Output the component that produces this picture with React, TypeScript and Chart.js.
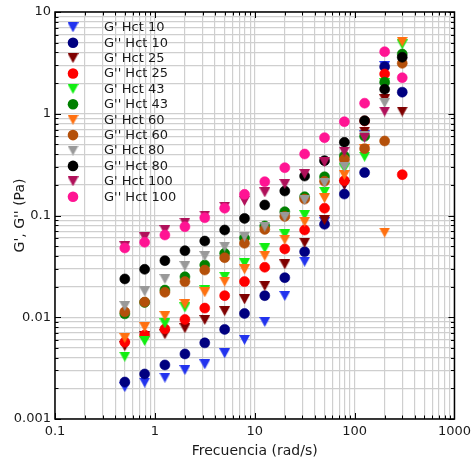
import React, { useEffect, useRef } from 'react';
import { Chart, registerables } from 'chart.js';
Chart.register(...registerables);

// ---------- data ----------
const frequency = [0.5, 0.79, 1.26, 2, 3.16, 5, 7.9, 12.6, 20, 31.6, 50, 79, 126, 200, 300];

const gp10 = [0.00206, 0.00228, 0.00255, 0.00303, 0.00345, 0.00443, 0.006, 0.009, 0.0162, 0.0352, 0.086, 0.2, 0.62, 2.95, null];
const gpp10 = [0.00231, 0.00277, 0.0034, 0.00436, 0.0056, 0.0076, 0.0109, 0.0163, 0.0245, 0.044, 0.082, 0.1625, 0.264, 2.9, 1.63];
const gp25 = [0.0052, 0.0065, 0.0068, 0.0078, 0.0094, 0.0115, 0.015, 0.0203, 0.0331, 0.054, 0.09, 0.2, 0.667, 1.39, 1.05];
const gpp25 = [0.0057, 0.00668, 0.00767, 0.0095, 0.0123, 0.0163, 0.0224, 0.031, 0.0469, 0.072, 0.118, 0.22, 0.85, 2.46, 0.252];
const gp43 = [0.0041, 0.00585, 0.0087, 0.0125, 0.0185, 0.025, 0.0339, 0.0477, 0.0653, 0.101, 0.171, 0.291, 0.378, 2.0, 4.8];
const gpp43 = [0.0108, 0.014, 0.0185, 0.025, 0.0326, 0.0425, 0.06, 0.079, 0.109, 0.153, 0.24, 0.385, 0.6, 2.04, 3.86];
const gp60 = [0.00625, 0.008, 0.0103, 0.0135, 0.0176, 0.0224, 0.0296, 0.0402, 0.058, 0.0869, 0.148, 0.25, 0.45, 0.068, 5.1];
const gpp60 = [0.0113, 0.0141, 0.0176, 0.0224, 0.0291, 0.0385, 0.0533, 0.073, 0.098, 0.145, 0.217, 0.357, 0.454, 0.54, 3.13];
const gp80 = [0.0129, 0.018, 0.0238, 0.0319, 0.04, 0.0494, 0.062, 0.0776, 0.097, 0.142, 0.21, 0.302, 0.6, 1.28, null];
const gpp80 = [0.0238, 0.0296, 0.036, 0.0451, 0.0561, 0.072, 0.0937, 0.127, 0.174, 0.244, 0.346, 0.524, 0.855, 1.74, 3.59];
const gp100 = [0.05, 0.061, 0.072, 0.085, 0.1, 0.122, 0.139, 0.169, 0.204, 0.256, 0.334, 0.424, 0.582, 1.05, null];
const gpp100 = [0.048, 0.0546, 0.0643, 0.0776, 0.095, 0.118, 0.1614, 0.215, 0.295, 0.402, 0.582, 0.835, 1.27, 4.07, 2.26];

const seriesValues = [gp10, gpp10, gp25, gpp25, gp43, gpp43, gp60, gpp60, gp80, gpp80, gp100, gpp100];
const seriesLabels = [
  "G' Hct 10", "G'' Hct 10", "G' Hct 25", "G'' Hct 25", "G' Hct 43", "G'' Hct 43",
  "G' Hct 60", "G'' Hct 60", "G' Hct 80", "G'' Hct 80", "G' Hct 100", "G'' Hct 100",
];
const seriesColors = [
  '#2233ee', '#000080', '#7f0000', '#ff0000', '#11ee11', '#008000',
  '#ff7010', '#b4500a', '#999999', '#000000', '#b0105a', '#ff1493',
];
const seriesIsTriangle = [true, false, true, false, true, false, true, false, true, false, true, false];

const xTickValues = [0.1, 1, 10, 100, 1000];
const xTickLabels = ['0.1', '1', '10', '100', '1000'];
const yTickValues = [0.001, 0.01, 0.1, 1, 10];
const yTickLabels = ['0.001', '0.01', '0.1', '1', '10'];

const xTitle = 'Frecuencia (rad/s)';
const yTitle = "G', G'' (Pa)";

// ---------- helpers ----------
const FONT = 'DejaVu Sans';
const TEXT = '#1a1a1a';

function logValues(minExp: number, maxExp: number) {
  const out: number[] = [];
  for (let e = minExp; e < maxExp; e++) {
    for (let k = 1; k <= 9; k++) out.push(parseFloat((k * Math.pow(10, e)).toPrecision(6)));
  }
  out.push(Math.pow(10, maxExp));
  return out;
}
const xGrid = logValues(-1, 3);
const yGrid = logValues(-3, 1);

function labelFor(v: number, values: number[], labels: string[]) {
  for (let i = 0; i < values.length; i++) {
    if (Math.abs(v - values[i]) / values[i] < 1e-6) return labels[i];
  }
  return '';
}
function isMajor(v: number) {
  const l = Math.log10(v);
  return Math.abs(l - Math.round(l)) < 1e-6;
}

function makeTriangle(color: string) {
  const w = 11, h = 10;
  const c = document.createElement('canvas');
  c.width = w; c.height = h;
  const ctx = c.getContext('2d')!;
  ctx.fillStyle = color;
  ctx.beginPath();
  ctx.moveTo(0, 0);
  ctx.lineTo(w, 0);
  ctx.lineTo(w / 2, h);
  ctx.closePath();
  ctx.fill();
  return c;
}

export default function App() {
  const ref = useRef<HTMLCanvasElement>(null);
  useEffect(() => {
    document.body.style.margin = '0';
    const triangles = seriesColors.map((c) => makeTriangle(c));

    const datasets = seriesValues.map((vals, i) => ({
      label: seriesLabels[i],
      data: frequency
        .map((f, j) => (vals[j] == null ? null : { x: f, y: vals[j] as number }))
        .filter((p) => p !== null) as { x: number; y: number }[],
      pointStyle: seriesIsTriangle[i] ? (triangles[i] as any) : 'circle',
      pointRadius: seriesIsTriangle[i] ? 6 : 5,
      pointHoverRadius: seriesIsTriangle[i] ? 6 : 5,
      backgroundColor: seriesColors[i],
      borderColor: seriesColors[i],
      borderWidth: seriesIsTriangle[i] ? 0 : 0.6,
      order: seriesValues.length - 1 - i,
    }));

    const framePlugin = {
      id: 'frameTicks',
      afterDatasetsDraw(chart: any) {
        const { ctx, chartArea } = chart;
        const { left, right, top, bottom } = chartArea;
        const xs = chart.scales.x;
        const ys = chart.scales.y;
        ctx.save();
        ctx.strokeStyle = '#000';
        ctx.lineWidth = 1;
        ctx.beginPath();
        xGrid.forEach((v) => {
          const px = Math.round(xs.getPixelForValue(v)) + 0.5;
          const len = isMajor(v) ? 6 : 3.5;
          ctx.moveTo(px, bottom); ctx.lineTo(px, bottom - len);
          ctx.moveTo(px, top); ctx.lineTo(px, top + len);
        });
        yGrid.forEach((v) => {
          const py = Math.round(ys.getPixelForValue(v)) + 0.5;
          const len = isMajor(v) ? 6 : 3.5;
          ctx.moveTo(left, py); ctx.lineTo(left + len, py);
          ctx.moveTo(right, py); ctx.lineTo(right - len, py);
        });
        ctx.stroke();
        ctx.lineWidth = 1.5;
        ctx.strokeRect(left, top, right - left, bottom - top);
        ctx.restore();
      },
      afterDraw(chart: any) {
        const { ctx } = chart;
        ctx.save();
        ctx.font = `13px "${FONT}"`;
        ctx.textBaseline = 'middle';
        ctx.textAlign = 'left';
        seriesLabels.forEach((lab, i) => {
          const y = 27.3 + i * 15.4;
          const x = 73;
          if (seriesIsTriangle[i]) {
            const t = triangles[i];
            ctx.drawImage(t, x - t.width / 2, y - t.height / 2);
          } else {
            ctx.fillStyle = seriesColors[i];
            ctx.beginPath();
            ctx.arc(x, y, 5.3, 0, Math.PI * 2);
            ctx.fill();
          }
          ctx.fillStyle = TEXT;
          ctx.fillText(lab, 104, y + 0.5);
        });
        ctx.restore();
      },
    };

    const chart = new Chart(ref.current!, {
      type: 'scatter',
      data: { datasets: datasets as any },
      options: {
        responsive: false,
        animation: false,
        devicePixelRatio: 1,
        events: [],
        layout: { padding: { left: 0, right: 18, top: 12, bottom: 0 } },
        plugins: { legend: { display: false }, tooltip: { enabled: false } },
        scales: {
          x: {
            type: 'logarithmic',
            position: 'bottom',
            min: 0.1,
            max: 1000,
            afterBuildTicks: (s: any) => {
              s.ticks = xGrid.map((v) => ({ value: v, major: isMajor(v) }));
            },
            afterFit: (s: any) => { s.height = 49; },
            grid: { color: '#cfcfcf', lineWidth: 1.2, drawTicks: false },
            border: { display: false },
            ticks: {
              autoSkip: false,
              maxRotation: 0,
              minRotation: 0,
              padding: 5,
              color: TEXT,
              font: { family: FONT, size: 13 },
              callback: (v: any) => labelFor(Number(v), xTickValues, xTickLabels),
            },
            title: {
              display: true,
              text: xTitle,
              color: TEXT,
              font: { family: FONT, size: 14 },
              padding: { top: 0, bottom: 8 },
            },
          },
          y: {
            type: 'logarithmic',
            position: 'left',
            min: 0.001,
            max: 10,
            afterBuildTicks: (s: any) => {
              s.ticks = yGrid.map((v) => ({ value: v, major: isMajor(v) }));
            },
            afterFit: (s: any) => { s.width = 55; },
            grid: { color: '#cfcfcf', lineWidth: 1.2, drawTicks: false },
            border: { display: false },
            ticks: {
              autoSkip: false,
              padding: 4,
              color: TEXT,
              font: { family: FONT, size: 13 },
              callback: (v: any) => labelFor(Number(v), yTickValues, yTickLabels),
            },
            title: {
              display: true,
              text: yTitle,
              color: TEXT,
              font: { family: FONT, size: 14 },
              padding: { top: 12, bottom: 0 },
            },
          },
        },
      },
      plugins: [framePlugin],
    });
    return () => chart.destroy();
  }, []);

  return (
    <div style={{ width: 476, height: 468 }}>
      <canvas ref={ref} width={476} height={468} style={{ display: 'block' }} />
    </div>
  );
}
